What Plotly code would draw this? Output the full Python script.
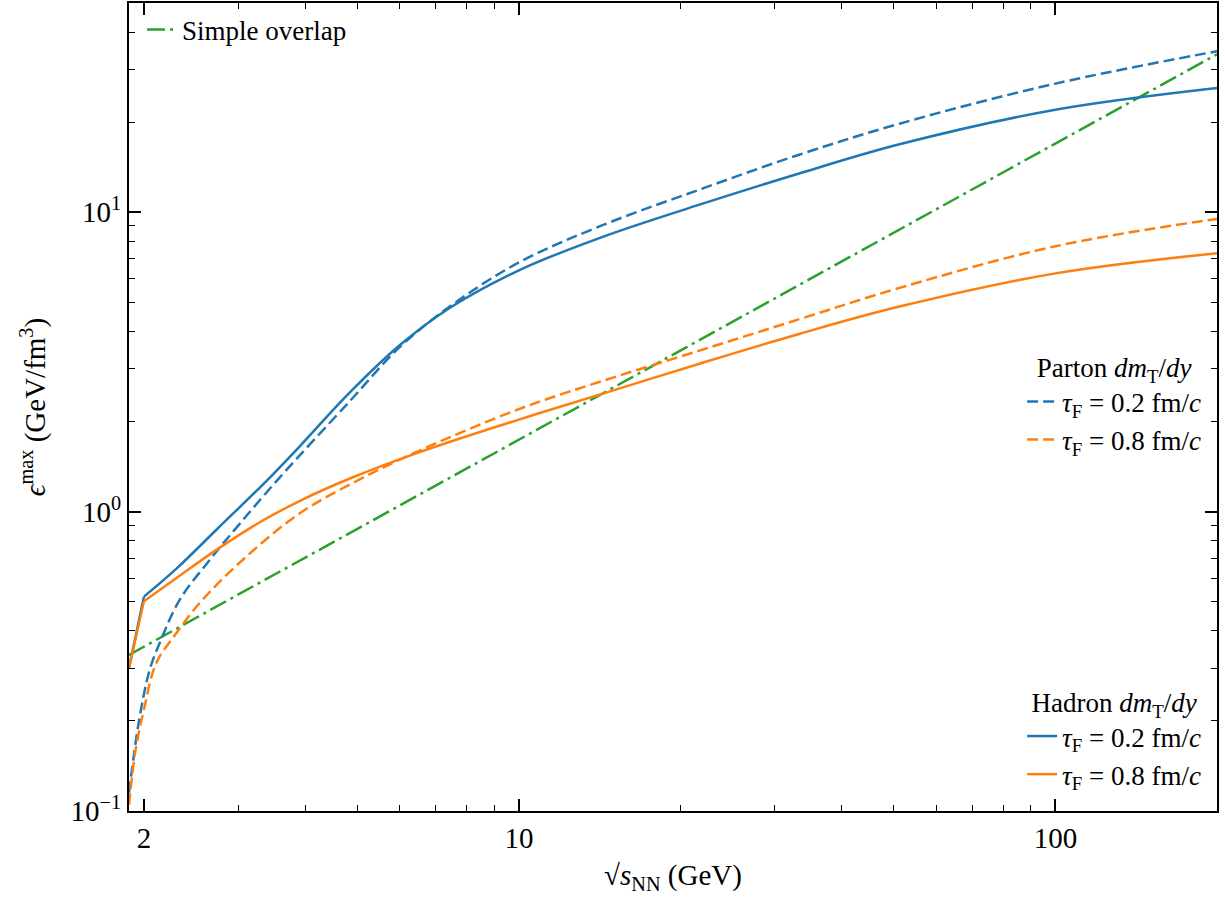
import plotly.graph_objects as go

# ---------------- data ----------------
x_simple = [1.876, 2, 3, 5, 10, 20, 50, 100, 200]
y_simple = [0.332, 0.354, 0.529, 0.876, 1.74, 3.45, 8.55, 16.9, 33.7]

x_had02 = [1.876, 2.0, 2.3, 2.73, 3.39, 3.9, 4.84, 6.0, 7.44, 10, 14.2, 21.7, 33.4, 51.4, 100, 200]
y_had02 = [0.30, 0.52, 0.645, 0.87, 1.27, 1.65, 2.5, 3.6, 4.8, 6.4, 8.23, 10.6, 13.5, 16.9, 22.0, 26.0]

x_par02 = [1.876, 1.96, 2.05, 2.14, 2.33, 2.65, 3.0, 3.54, 4.84, 6.0, 7.44, 10, 14.2, 21.7, 33.4, 51.4, 100, 200]
y_par02 = [0.115, 0.202, 0.296, 0.364, 0.506, 0.688, 0.9, 1.27, 2.34, 3.55, 4.85, 6.8, 9.0, 11.9, 15.6, 19.8, 26.9, 34.5]

x_had08 = [1.876, 2.0, 2.3, 2.73, 3.3, 3.9, 4.84, 6.53, 10, 15.1, 21.7, 33.4, 51.4, 100, 200]
y_had08 = [0.30, 0.502, 0.60, 0.745, 0.925, 1.085, 1.29, 1.58, 2.03, 2.55, 3.12, 3.93, 4.85, 6.25, 7.3]

x_par08 = [1.876, 1.93, 2.0, 2.11, 2.30, 2.54, 3.05, 3.9, 5.0, 6.53, 10, 14.2, 21.7, 33.4, 51.4, 100, 200]
y_par08 = [0.105, 0.16, 0.218, 0.313, 0.393, 0.495, 0.688, 0.986, 1.27, 1.6, 2.2, 2.72, 3.45, 4.4, 5.6, 7.7, 9.5]

x_major = [2, 10, 100]
x_major_text = ["2", "10", "100"]
x_minor = [3, 4, 5, 6, 7, 8, 9, 20, 30, 40, 50, 60, 70, 80, 90, 200]
y_major = [0.1, 1, 10]
y_major_text = ["10<sup>−1</sup>", "10<sup>0</sup>", "10<sup>1</sup>"]
y_minor = [0.2, 0.3, 0.4, 0.5, 0.6, 0.7, 0.8, 0.9, 2, 3, 4, 5, 6, 7, 8, 9, 20, 30, 40]

BLUE = "#1f77b4"
ORANGE = "#ff7f0e"
GREEN = "#2ca02c"
FONT = "Liberation Serif"
LW = 2.5
DASH = "11px,5px"
SMOOTH = 1.0
tau02 = "<i>τ</i><sub>F</sub> = 0.2 fm/<i>c</i>"
tau08 = "<i>τ</i><sub>F</sub> = 0.8 fm/<i>c</i>"

fig = go.Figure()
fig.add_trace(go.Scatter(x=x_simple, y=y_simple, mode="lines", name="Simple overlap",
                         line=dict(color=GREEN, width=LW, dash="18px,5px,3px,5px"),
                         legend="legend"))
fig.add_trace(go.Scatter(x=x_par02, y=y_par02, mode="lines", name=tau02,
                         line=dict(color=BLUE, width=LW, dash=DASH, shape="spline", smoothing=SMOOTH),
                         legend="legend2"))
fig.add_trace(go.Scatter(x=x_par08, y=y_par08, mode="lines", name=tau08,
                         line=dict(color=ORANGE, width=LW, dash=DASH, shape="spline", smoothing=SMOOTH),
                         legend="legend2"))
# hadron curves: sharp threshold segment + smooth remainder
for xs, ys, col, nm in [(x_had02, y_had02, BLUE, tau02), (x_had08, y_had08, ORANGE, tau08)]:
    fig.add_trace(go.Scatter(x=xs[:2], y=ys[:2], mode="lines", showlegend=False,
                             line=dict(color=col, width=LW), legend="legend3"))
    fig.add_trace(go.Scatter(x=xs[1:], y=ys[1:], mode="lines", name=nm,
                             line=dict(color=col, width=LW, shape="spline", smoothing=SMOOTH),
                             legend="legend3"))

axis_common = dict(
    type="log", showline=True, linecolor="black", linewidth=2, mirror="allticks",
    ticks="inside", ticklen=12, tickwidth=1.5, tickcolor="black",
    showgrid=False, zeroline=False,
    tickfont=dict(family=FONT, size=29, color="black"),
)

fig.update_xaxes(
    **axis_common,
    range=[0.27324, 2.30103],
    tickmode="array", tickvals=x_major, ticktext=x_major_text,
    minor=dict(tickmode="array", tickvals=x_minor, ticks="inside", ticklen=6,
               tickwidth=1.2, tickcolor="black", showgrid=False),
    title=dict(text="√<i>s</i><sub>NN</sub> (GeV)", font=dict(family=FONT, size=29, color="black"),
               standoff=12),
)
fig.update_yaxes(
    **axis_common,
    range=[-1, 1.69897],
    tickmode="array", tickvals=y_major, ticktext=y_major_text,
    minor=dict(tickmode="array", tickvals=y_minor, ticks="inside", ticklen=6,
               tickwidth=1.2, tickcolor="black", showgrid=False),
    title=dict(text="<i>ϵ</i><sup>max</sup> (GeV/fm<sup>3</sup>)",
               font=dict(family=FONT, size=29, color="black"), standoff=16),
)

legend_font = dict(family=FONT, size=27, color="black")
fig.update_layout(
    width=1225, height=898,
    margin=dict(l=129, r=8, t=1, b=87),
    paper_bgcolor="white", plot_bgcolor="white",
    showlegend=True,
    legend=dict(x=0.012, y=0.997, xanchor="left", yanchor="top", bgcolor="rgba(0,0,0,0)",
                font=legend_font),
    legend2=dict(x=0.99, y=0.58, xanchor="right", yanchor="top", bgcolor="rgba(0,0,0,0)",
                 font=legend_font, tracegroupgap=0,
                 title=dict(text="Parton <i>dm</i><sub>T</sub>/<i>dy</i>", side="top center",
                            font=legend_font)),
    legend3=dict(x=0.99, y=0.015, xanchor="right", yanchor="bottom", bgcolor="rgba(0,0,0,0)",
                 font=legend_font, tracegroupgap=0,
                 title=dict(text="Hadron <i>dm</i><sub>T</sub>/<i>dy</i>", side="top center",
                            font=legend_font)),
)

fig.write_html("out.html")
